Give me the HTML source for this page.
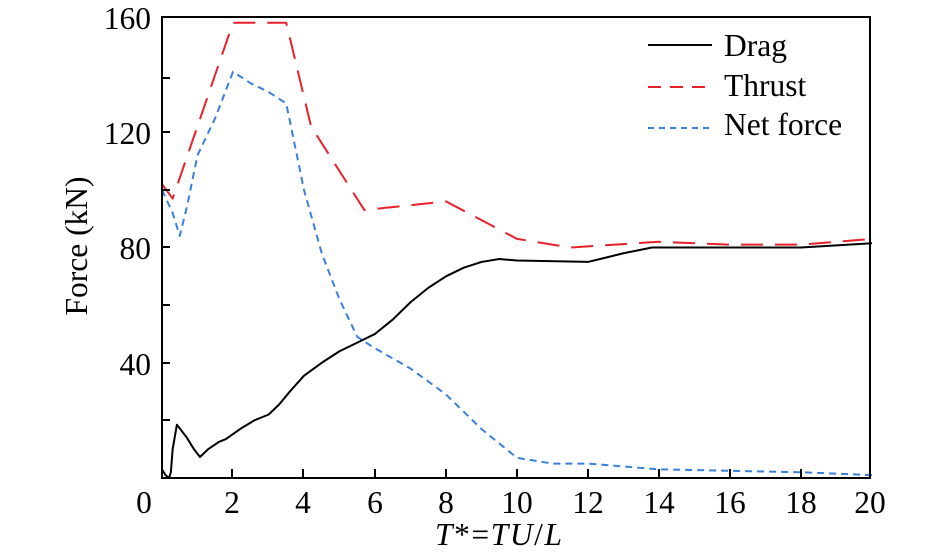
<!DOCTYPE html>
<html><head><style>body{margin:0;background:#fff}svg{display:block}text{font-family:"Liberation Serif",serif;fill:#000}</style></head>
<body>
<svg width="946" height="557" viewBox="0 0 946 557">
<g font-size="31.5">
<text x="151" y="29" text-anchor="end">160</text>
<text x="151" y="144" text-anchor="end">120</text>
<text x="151" y="259" text-anchor="end">80</text>
<text x="151" y="375" text-anchor="end">40</text>
<g text-anchor="middle">
<text x="144" y="513">0</text>
<text x="232" y="513">2</text>
<text x="303" y="513">4</text>
<text x="375" y="513">6</text>
<text x="446" y="513">8</text>
<text x="517" y="513">10</text>
<text x="588" y="513">12</text>
<text x="659" y="513">14</text>
<text x="730" y="513">16</text>
<text x="801" y="513">18</text>
<text x="870" y="513">20</text>
</g>
<text x="435" y="545" textLength="127" lengthAdjust="spacing"><tspan font-style="italic">T</tspan>*=<tspan font-style="italic">TU</tspan>/<tspan font-style="italic">L</tspan></text>
<text transform="translate(87,246) rotate(-90)" text-anchor="middle">Force (kN)</text>
<text x="724" y="56">Drag</text>
<text x="724" y="96">Thrust</text>
<text x="724" y="135">Net force</text>
</g>
<line x1="648" y1="45" x2="712" y2="45" stroke="#000" stroke-width="2"/>
<line x1="648" y1="87" x2="712" y2="87" stroke="#e8202a" stroke-width="2" stroke-dasharray="13,9"/>
<line x1="648" y1="128" x2="712" y2="128" stroke="#3a7fdc" stroke-width="2" stroke-dasharray="6,5"/>
<g transform="translate(162,478) scale(35.5,-2.881)" fill="none" stroke-linejoin="round">
<polyline vector-effect="non-scaling-stroke" stroke="#e8202a" stroke-width="2" stroke-dasharray="22,12" points="0,102 0.3,97 2,158 3.5,158 4.2,122 5.7,93 8,96 10,83 11.5,80 14,82 16,81 18,81 20,83"/>
<polyline vector-effect="non-scaling-stroke" stroke="#3a7fdc" stroke-width="2" stroke-dasharray="7,5" points="0,100 0.3,92 0.5,84 0.7,94 1,112 1.5,125 2,141 2.5,137 3,134 3.5,130 4,100 4.5,78 5,62 5.5,49 6,45 7,38 8,29 9,17 10,7 11,5 12,5 14,3 16,2.5 18,2 20,1"/>
<polyline vector-effect="non-scaling-stroke" stroke="#000" stroke-width="2" points="0,3 0.1,1 0.2,0 0.25,2 0.3,10 0.42,18.5 0.7,14 0.9,10 1.07,7.3 1.3,10 1.6,12.5 1.8,13.5 2.2,17 2.6,20 3,22 3.3,25.5 3.6,30 4,35.5 4.5,40 5,44 5.5,47 6,50 6.5,55 7,61 7.5,66 8,70 8.5,73 9,75 9.5,76 10,75.5 12,75 12.5,76.5 13,78 13.8,80 16,80 18,80 20,81.5"/>
</g>
<rect x="162" y="17" width="708" height="461" fill="none" stroke="#000" stroke-width="2"/>
<g stroke="#000" stroke-width="2">
<line x1="162" y1="78" x2="170" y2="78"/><line x1="162" y1="132" x2="170" y2="132"/><line x1="162" y1="190" x2="170" y2="190"/><line x1="162" y1="247" x2="170" y2="247"/><line x1="162" y1="305" x2="170" y2="305"/><line x1="162" y1="363" x2="170" y2="363"/><line x1="162" y1="420" x2="170" y2="420"/>
<line x1="232" y1="478" x2="232" y2="469"/><line x1="303" y1="478" x2="303" y2="469"/><line x1="375" y1="478" x2="375" y2="469"/><line x1="446" y1="478" x2="446" y2="469"/><line x1="517" y1="478" x2="517" y2="469"/><line x1="588" y1="478" x2="588" y2="469"/><line x1="659" y1="478" x2="659" y2="469"/><line x1="730" y1="478" x2="730" y2="469"/><line x1="801" y1="478" x2="801" y2="469"/>
</g>
</svg>
</body></html>
